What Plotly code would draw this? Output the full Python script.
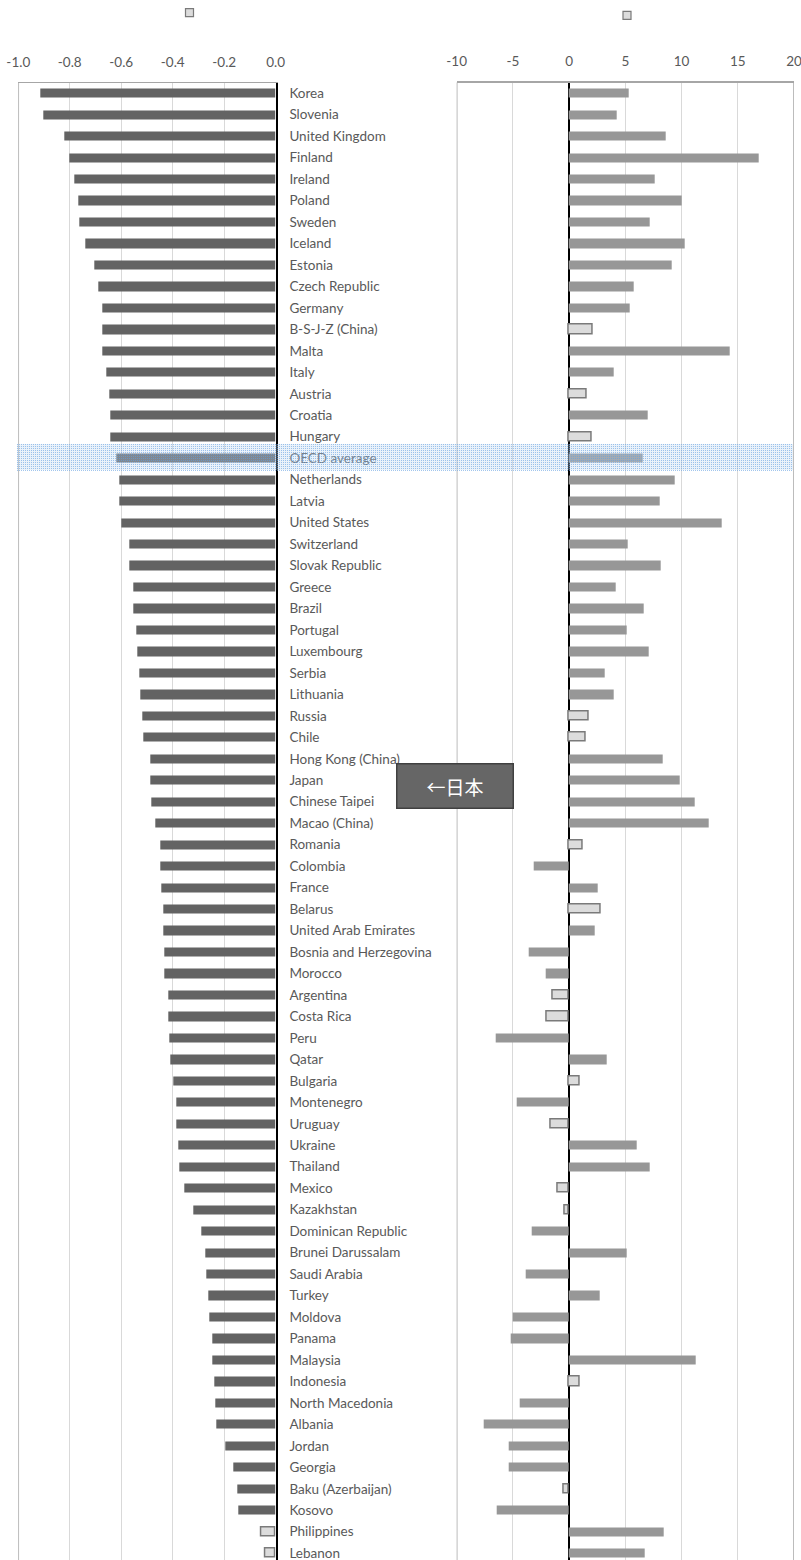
import plotly.graph_objects as go

# Countries, top to bottom
countries = [
    "Korea", "Slovenia", "United Kingdom", "Finland", "Ireland", "Poland", "Sweden",
    "Iceland", "Estonia", "Czech Republic", "Germany", "B-S-J-Z (China)", "Malta",
    "Italy", "Austria", "Croatia", "Hungary", "OECD average", "Netherlands", "Latvia",
    "United States", "Switzerland", "Slovak Republic", "Greece", "Brazil", "Portugal",
    "Luxembourg", "Serbia", "Lithuania", "Russia", "Chile", "Hong Kong (China)", "Japan",
    "Chinese Taipei", "Macao (China)", "Romania", "Colombia", "France", "Belarus",
    "United Arab Emirates", "Bosnia and Herzegovina", "Morocco", "Argentina",
    "Costa Rica", "Peru", "Qatar", "Bulgaria", "Montenegro", "Uruguay", "Ukraine",
    "Thailand", "Mexico", "Kazakhstan", "Dominican Republic", "Brunei Darussalam",
    "Saudi Arabia", "Turkey", "Moldova", "Panama", "Malaysia", "Indonesia",
    "North Macedonia", "Albania", "Jordan", "Georgia", "Baku (Azerbaijan)", "Kosovo",
    "Philippines", "Lebanon",
]

# Left panel: index values (-1.0 .. 0.0)
left_values = [
    -0.914, -0.904, -0.821, -0.800, -0.781, -0.767, -0.763, -0.740, -0.706, -0.690,
    -0.673, -0.673, -0.673, -0.658, -0.645, -0.642, -0.642, -0.620, -0.607, -0.607,
    -0.601, -0.570, -0.570, -0.554, -0.554, -0.541, -0.537, -0.528, -0.526, -0.517,
    -0.513, -0.487, -0.487, -0.484, -0.469, -0.449, -0.447, -0.444, -0.438, -0.438,
    -0.434, -0.431, -0.418, -0.418, -0.414, -0.409, -0.396, -0.386, -0.386, -0.377,
    -0.374, -0.356, -0.322, -0.291, -0.273, -0.269, -0.262, -0.258, -0.247, -0.245,
    -0.238, -0.234, -0.229, -0.197, -0.164, -0.150, -0.146, -0.057, -0.041,
]
# 1 = statistically significant, 0 = not significant
left_sig = [1] * 67 + [0, 0]

# Right panel: point differences (-10 .. 20)
right_values = [
    5.28, 4.27, 8.55, 16.85, 7.60, 10.00, 7.15, 10.27, 9.14, 5.70,
    5.37, 2.14, 14.24, 3.92, 1.60, 7.03, 2.05, 6.50, 9.41, 8.04,
    13.53, 5.22, 8.10, 4.18, 6.59, 5.13, 7.09, 3.20, 3.95, 1.78,
    1.48, 8.34, 9.79, 11.16, 12.43, 1.22, -3.12, 2.58, 2.85, 2.26,
    -3.56, -2.05, -1.42, -1.96, -6.53, 3.38, 0.92, -4.66, -1.66, 6.02,
    7.15, -0.98, -0.36, -3.35, 5.16, -3.86, 2.76, -5.01, -5.16, 11.22,
    0.98, -4.36, -7.63, -5.37, -5.37, -0.50, -6.47, 8.40, 6.68,
]
right_not_sig = {
    "B-S-J-Z (China)", "Austria", "Hungary", "Russia", "Chile", "Romania", "Belarus",
    "Argentina", "Costa Rica", "Bulgaria", "Uruguay", "Mexico", "Kazakhstan",
    "Indonesia", "Baku (Azerbaijan)",
}
right_sig = [0 if c in right_not_sig else 1 for c in countries]

left_tickvals = [-1.0, -0.8, -0.6, -0.4, -0.2, 0.0]
left_ticktext = ["-1.0", "-0.8", "-0.6", "-0.4", "-0.2", "0.0"]
right_tickvals = [-10, -5, 0, 5, 10, 15, 20]
right_ticktext = ["-10", "-5", "0", "5", "10", "15", "20"]

highlight_row = "OECD average"
callout_row = "Japan"
callout_text = "←日本"

# ---- styling ----
W, H = 801, 1560
FONT = "Lato"
TXT = "#595959"
GRID = "#d9d9d9"
FRAME = "#a6a6a6"
LEFT_BAR = "#636363"
RIGHT_BAR = "#979797"
NS_FILL = "#dcdcdc"
NS_LINE = "#7a7a7a"

def px_x(p):
    return p / W

def px_y(p):
    return 1 - p / H

left_dom = [px_x(18.3), px_x(275.7)]
right_dom = [px_x(456.7), px_x(794.0)]
plot_top = 82.5
row_px = 21.47
n_rows = (H - plot_top) / row_px
y_range = [-0.5 + n_rows, -0.5]

def colors(sig, solid):
    return [solid if s else NS_FILL for s in sig]

def line_w(sig):
    return [0 if s else 1.5 for s in sig]

fig = go.Figure()

fig.add_trace(go.Bar(
    x=left_values, y=countries, orientation="h", xaxis="x", yaxis="y",
    width=0.43,
    marker=dict(color=colors(left_sig, LEFT_BAR),
                line=dict(color=NS_LINE, width=line_w(left_sig))),
    showlegend=False, hoverinfo="x+y",
))
fig.add_trace(go.Bar(
    x=right_values, y=countries, orientation="h", xaxis="x2", yaxis="y2",
    width=0.43,
    marker=dict(color=colors(right_sig, RIGHT_BAR),
                line=dict(color=NS_LINE, width=line_w(right_sig))),
    showlegend=False, hoverinfo="x+y",
))

tickfont = dict(family=FONT, size=13.5, color=TXT)

fig.update_layout(
    width=W, height=H,
    margin=dict(l=0, r=0, t=0, b=0, autoexpand=False),
    paper_bgcolor="white", plot_bgcolor="white",
    bargap=0,
    xaxis=dict(
        domain=left_dom, range=[-1.0, 0.0], side="top", automargin=False,
        tickvals=left_tickvals, ticktext=left_ticktext, tickfont=tickfont,
        ticklabeloverflow="allow",
        showgrid=True, gridcolor=GRID, gridwidth=1, zeroline=False,
        showline=True, linecolor=FRAME, linewidth=1, ticks="",
        ticklabelstandoff=9, anchor="y",
    ),
    yaxis=dict(
        domain=[0, px_y(plot_top)], range=y_range, type="category",
        categoryorder="array", categoryarray=countries, automargin=False,
        side="right", tickfont=tickfont, ticks="", ticklabelstandoff=9,
        ticklabeloverflow="allow",
        showgrid=False, zeroline=False,
        showline=True, linecolor="black", linewidth=2, anchor="x",
    ),
    xaxis2=dict(
        domain=right_dom, range=[-10, 20], side="top", automargin=False,
        tickvals=right_tickvals, ticktext=right_ticktext, tickfont=tickfont,
        ticklabeloverflow="allow",
        showgrid=True, gridcolor=GRID, gridwidth=1,
        zeroline=True, zerolinecolor="black", zerolinewidth=1.5,
        showline=True, linecolor=FRAME, linewidth=1.5, ticks="",
        ticklabelstandoff=9, anchor="y2",
    ),
    yaxis2=dict(
        domain=[0, px_y(plot_top)], range=y_range, type="category",
        categoryorder="array", categoryarray=countries, automargin=False,
        showticklabels=False, ticks="", showgrid=False, zeroline=False,
        showline=False, anchor="x2", matches="y",
    ),
)

shapes = []
# left frame edge of the left panel
shapes.append(dict(type="line", xref="x", yref="y domain", x0=-1.0, x1=-1.0, y0=0, y1=1,
                   line=dict(color=FRAME, width=1.5), layer="above"))
# left / right frame edges of the right panel
for xv in (-10, 20):
    shapes.append(dict(type="line", xref="x2", yref="y2 domain", x0=xv, x1=xv, y0=0, y1=1,
                       line=dict(color=FRAME, width=1.5), layer="above"))

# highlighted row band across both panels: pale fill plus a fine dotted texture
hi = countries.index(highlight_row)
row_center_px = plot_top + (hi + 0.5) * row_px
band_top = round(row_center_px - 14.7)
band_bot = round(row_center_px + 11.3)
band_x0, band_x1 = 17, 793
shapes.append(dict(type="rect", xref="paper", yref="paper",
                   x0=px_x(band_x0), x1=px_x(band_x1),
                   y0=px_y(band_bot), y1=px_y(band_top),
                   fillcolor="rgba(189,215,238,0.32)", line=dict(width=0), layer="above"))
for yy in range(band_top, band_bot + 1, 2):
    shapes.append(dict(type="line", xref="paper", yref="paper",
                       x0=px_x(band_x0), x1=px_x(band_x1),
                       y0=px_y(yy + 0.5), y1=px_y(yy + 0.5),
                       line=dict(color="rgba(100,160,225,0.6)", width=1, dash="1px,1px"),
                       layer="above"))

# legend swatches for "not significant"
for cx, cy in ((189.5, 12.7), (627.0, 15.3)):
    shapes.append(dict(type="rect", xref="paper", yref="paper",
                       x0=px_x(cx - 4), x1=px_x(cx + 4), y0=px_y(cy + 4), y1=px_y(cy - 4),
                       fillcolor=NS_FILL, line=dict(color=NS_LINE, width=1.2)))

fig.update_layout(shapes=shapes)

# callout label next to Japan
fig.add_annotation(
    x=px_x(455.5), xref="paper", y=countries.index(callout_row), yref="y",
    yshift=-6, text=callout_text, showarrow=False,
    font=dict(family="Noto Sans CJK JP", size=19, color="white"),
    bgcolor="#666666", bordercolor="#404040", borderwidth=1.5, borderpad=0,
    width=115, height=43, align="center", valign="middle",
)

fig.write_html("out.html")
